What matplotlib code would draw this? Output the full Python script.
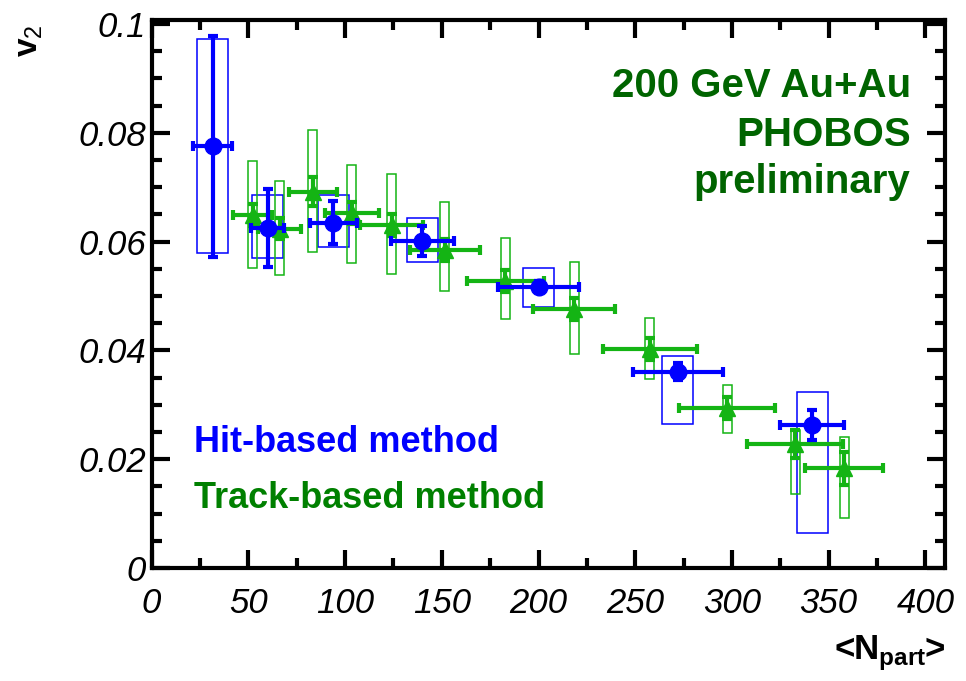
import numpy as np
import matplotlib
matplotlib.use('Agg')
import matplotlib.pyplot as plt
from matplotlib.patches import Rectangle

plt.rcParams['font.family'] = ['Liberation Sans', 'DejaVu Sans']
plt.rcParams['mathtext.fontset'] = 'custom'
plt.rcParams['mathtext.rm'] = 'Liberation Sans'
plt.rcParams['mathtext.bf'] = 'Liberation Sans:bold'

# hit-based method
npart_hit = [31.5, 60.0, 94.0, 140.0, 200.0, 272.0, 341.5]
npart_err_hit = [10.0, 8.6, 12.0, 16.3, 21.0, 23.3, 16.5]
v2_hit = [0.0775, 0.0625, 0.0635, 0.0601, 0.0517, 0.0361, 0.0263]
stat_hit = [0.0203, 0.0072, 0.0040, 0.0027, 0.0010, 0.0015, 0.0027]
sys_hit_lo = [0.0195, 0.0055, 0.0044, 0.0039, 0.0037, 0.0097, 0.0199]
sys_hit_hi = [0.0197, 0.0061, 0.0050, 0.0043, 0.0035, 0.0029, 0.0061]

# track-based method
npart_trk = [52.3, 66.2, 83.3, 103.5, 124.0, 151.5, 182.9, 218.5, 257.5, 297.5, 332.7, 358.0]
npart_err_trk = [10.0, 11.0, 12.3, 14.0, 16.4, 18.2, 20.0, 21.2, 24.3, 24.9, 24.7, 20.1]
v2_trk = [0.0649, 0.0624, 0.0692, 0.0652, 0.0630, 0.0584, 0.0528, 0.0476, 0.0402, 0.0294, 0.0228, 0.0183]
stat_trk = [0.0020, 0.0020, 0.0026, 0.0020, 0.0020, 0.0020, 0.0020, 0.0020, 0.0020, 0.0020, 0.0025, 0.0030]
sys_trk_lo = [0.0098, 0.0086, 0.0111, 0.0092, 0.0089, 0.0074, 0.0071, 0.0083, 0.0054, 0.0046, 0.0092, 0.0092]
sys_trk_hi = [0.0099, 0.0087, 0.0113, 0.0089, 0.0094, 0.0088, 0.0078, 0.0086, 0.0057, 0.0042, 0.0026, 0.0058]

blue = '#0000ff'
green = '#14b414'

fig = plt.figure(figsize=(9.66, 6.81), dpi=100)
ax = fig.add_axes([0.157, 0.166, 0.821, 0.805])

# systematic boxes
for x, y, lo, hi in zip(npart_hit, v2_hit, sys_hit_lo, sys_hit_hi):
    ax.add_patch(Rectangle((x - 8, y - lo), 16, lo + hi, fill=False, ec=blue, lw=1.1, zorder=2))
for x, y, lo, hi in zip(npart_trk, v2_trk, sys_trk_lo, sys_trk_hi):
    ax.add_patch(Rectangle((x - 2.3, y - lo), 4.6, lo + hi, fill=False, ec=green, lw=1.1, zorder=2))

ax.errorbar(npart_trk, v2_trk, xerr=npart_err_trk, yerr=stat_trk, fmt='^', color=green,
            ms=11, elinewidth=3, capsize=3.5, capthick=3, zorder=3)
ax.errorbar(npart_hit, v2_hit, xerr=npart_err_hit, yerr=stat_hit, fmt='o', color=blue,
            ms=12, elinewidth=3, capsize=3.5, capthick=3, zorder=4)

ax.set_xlim(0, 410)
ax.set_ylim(0, 0.1008)
ax.set_xticks(np.arange(0, 401, 50))
ax.set_xticks(np.arange(0, 410, 25), minor=True)
ax.set_yticks([0, 0.02, 0.04, 0.06, 0.08, 0.1])
ax.set_yticks(np.arange(0, 0.1001, 0.005), minor=True)
ax.set_yticklabels(['0', '0.02', '0.04', '0.06', '0.08', '0.1'])
ax.tick_params(which='both', direction='in', top=True, right=True, width=3, labelsize=25)
ax.tick_params(which='major', length=13)
ax.tick_params(which='minor', length=7)
ax.tick_params(axis='x', pad=14)
ax.tick_params(axis='y', pad=4)
for lab in ax.get_xticklabels() + ax.get_yticklabels():
    lab.set_fontstyle('italic')
for s in ax.spines.values():
    s.set_linewidth(3)

fig.text(0.031, 0.94, r'$\mathbf{v}_{2}$', rotation=90, fontsize=24, ha='center', va='center')
fig.text(0.978, 0.031, r'$\mathbf{<}\hspace{-0.25}\mathbf{N}_{\mathbf{part}}\hspace{-0.25}\mathbf{>}\hspace{-0.25}$',
         fontsize=25, ha='right', va='baseline')

ax.text(0.957, 0.859, '200 GeV Au+Au', transform=ax.transAxes, ha='right', va='baseline',
        fontsize=29, fontweight='bold', color='#006400')
ax.text(0.957, 0.770, 'PHOBOS', transform=ax.transAxes, ha='right', va='baseline',
        fontsize=29, fontweight='bold', color='#006400')
ax.text(0.957, 0.684, 'preliminary', transform=ax.transAxes, ha='right', va='baseline',
        fontsize=29, fontweight='bold', color='#006400')
ax.text(0.054, 0.212, 'Hit-based method', transform=ax.transAxes, ha='left', va='baseline',
        fontsize=26, fontweight='bold', color=blue)
ax.text(0.054, 0.109, 'Track-based method', transform=ax.transAxes, ha='left', va='baseline',
        fontsize=26, fontweight='bold', color='#008000')

plt.savefig('out.png', dpi=100)
